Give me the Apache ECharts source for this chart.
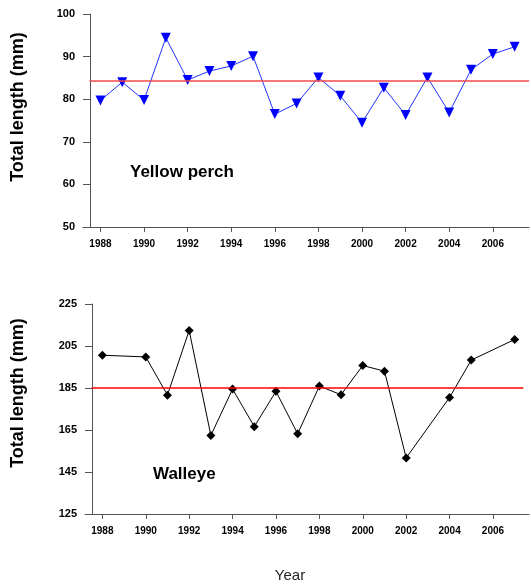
<!DOCTYPE html>
<html>
<head>
    <meta charset="UTF-8">
    <title>ECharts</title>
    <script src="https://cdn.jsdelivr.net/npm/echarts@6/dist/echarts.min.js"></script>
    <style>
        html, body { margin: 0; padding: 0; background: #fff; }
        #main { width: 531px; height: 584px; }
    </style>
</head>
<body>
    <div id="main"></div>
    <script type="text/javascript">
        // yellow perch, mean total length by year
        var perchYears = [1988, 1989, 1990, 1991, 1992, 1993, 1994, 1995, 1996, 1997,
                          1998, 1999, 2000, 2001, 2002, 2003, 2004, 2005, 2006, 2007];
        var perchLength = [79.7, 84.0, 79.8, 94.4, 84.5, 86.6, 87.8, 90.1, 76.5, 79.0,
                           85.1, 80.8, 74.5, 82.7, 76.3, 85.1, 76.9, 86.9, 90.6, 92.3];
        var perchMean = 84.4;

        // walleye (no samples in 1989, 2003, 2006)
        var walleyeYears = [1988, 1990, 1991, 1992, 1993, 1994, 1995, 1996, 1997, 1998,
                            1999, 2000, 2001, 2002, 2004, 2005, 2007];
        var walleyeLength = [200.6, 199.8, 181.6, 212.4, 162.4, 184.5, 166.6, 183.4, 163.2, 185.9,
                             181.8, 195.7, 193.0, 151.7, 180.5, 198.3, 208.1];
        var walleyeMean = 185;

        var yearTicks = [1988, 1990, 1992, 1994, 1996, 1998, 2000, 2002, 2004, 2006];

        function pairs(xs, ys) {
            var out = [];
            for (var i = 0; i < xs.length; i++) out.push([xs[i], ys[i]]);
            return out;
        }

        var xMin = 1987.2, xMax = 2007.66, yAxisAt = 1987.5;
        var tickFont = { fontFamily: 'Liberation Sans', fontWeight: 'bold', fontSize: 10, color: '#000' };
        var axisLine = { show: true, lineStyle: { color: '#555', width: 1 } };

        function xAxisFor(idx) {
            return {
                type: 'value', gridIndex: idx, min: xMin, max: xMax,
                axisLine: axisLine,
                axisTick: { show: true, length: 5, lineStyle: { color: '#555' }, customValues: yearTicks },
                axisLabel: Object.assign({ margin: 12, customValues: yearTicks,
                    formatter: function (v) { return String(v); } }, tickFont),
                splitLine: { show: false }
            };
        }
        function yAxisFor(idx, min, max, interval) {
            return {
                type: 'value', gridIndex: idx, min: min, max: max, interval: interval,
                offset: -7,
                axisLine: axisLine,
                axisTick: { show: true, length: 7, lineStyle: { color: '#555' } },
                axisLabel: Object.assign({}, tickFont, { margin: 15, fontSize: 11, padding: [4, 0, 0, 0] }),
                splitLine: { show: false }
            };
        }

        var myChart = echarts.init(document.getElementById('main'));

        var option = {
            animation: false,
            backgroundColor: '#fff',
            grid: [
                { left: 83, top: 14, right: 2, height: 213 },
                { left: 85, top: 304, right: 2, height: 210 }
            ],
            xAxis: [xAxisFor(0), xAxisFor(1)],
            yAxis: [yAxisFor(0, 50, 100, 10), yAxisFor(1, 125, 225, 20)],
            series: [
                {
                    type: 'line', xAxisIndex: 0, yAxisIndex: 0,
                    data: pairs(perchYears, perchLength),
                    symbol: 'triangle', symbolRotate: 180, symbolSize: 10,
                    itemStyle: { color: '#0000ff' },
                    lineStyle: { color: '#2233ff', width: 1 },
                    markLine: {
                        silent: true, symbol: 'none', label: { show: false },
                        lineStyle: { color: '#f04848', width: 1.5, type: 'solid' },
                        data: [[{ coord: [yAxisAt, perchMean] }, { coord: [xMax, perchMean] }]]
                    },
                    z: 3
                },
                {
                    type: 'line', xAxisIndex: 1, yAxisIndex: 1,
                    data: pairs(walleyeYears, walleyeLength),
                    symbol: 'diamond', symbolSize: 9,
                    itemStyle: { color: '#000' },
                    lineStyle: { color: '#000', width: 1 },
                    markLine: {
                        silent: true, symbol: 'none', label: { show: false },
                        lineStyle: { color: '#ff0000', width: 1.5, type: 'solid', opacity: 1 },
                        data: [[{ coord: [yAxisAt, walleyeMean], lineStyle: { color: '#ff0000' } },
                                { coord: [2007.4, walleyeMean] }]]
                    },
                    z: 3
                }
            ],
            graphic: [
                { type: 'text', x: 18, y: 107, rotation: Math.PI / 2,
                  style: { text: 'Total length (mm)', fontFamily: 'Liberation Sans', fontWeight: 'bold', fontSize: 18, fill: '#000', align: 'center', verticalAlign: 'middle' } },
                { type: 'text', x: 18, y: 393, rotation: Math.PI / 2,
                  style: { text: 'Total length (mm)', fontFamily: 'Liberation Sans', fontWeight: 'bold', fontSize: 18, fill: '#000', align: 'center', verticalAlign: 'middle' } },
                { type: 'text', x: 130, y: 164,
                  style: { text: 'Yellow perch', fontFamily: 'Liberation Sans', fontWeight: 'bold', fontSize: 17, fill: '#000' } },
                { type: 'text', x: 153, y: 466,
                  style: { text: 'Walleye', fontFamily: 'Liberation Sans', fontWeight: 'bold', fontSize: 17, fill: '#000' } },
                { type: 'text', x: 290, y: 576,
                  style: { text: 'Year', fontFamily: 'Liberation Sans', fontSize: 15, fill: '#222', align: 'center', verticalAlign: 'middle' } }
            ]
        };

        myChart.setOption(option);
    </script>
</body>
</html>
